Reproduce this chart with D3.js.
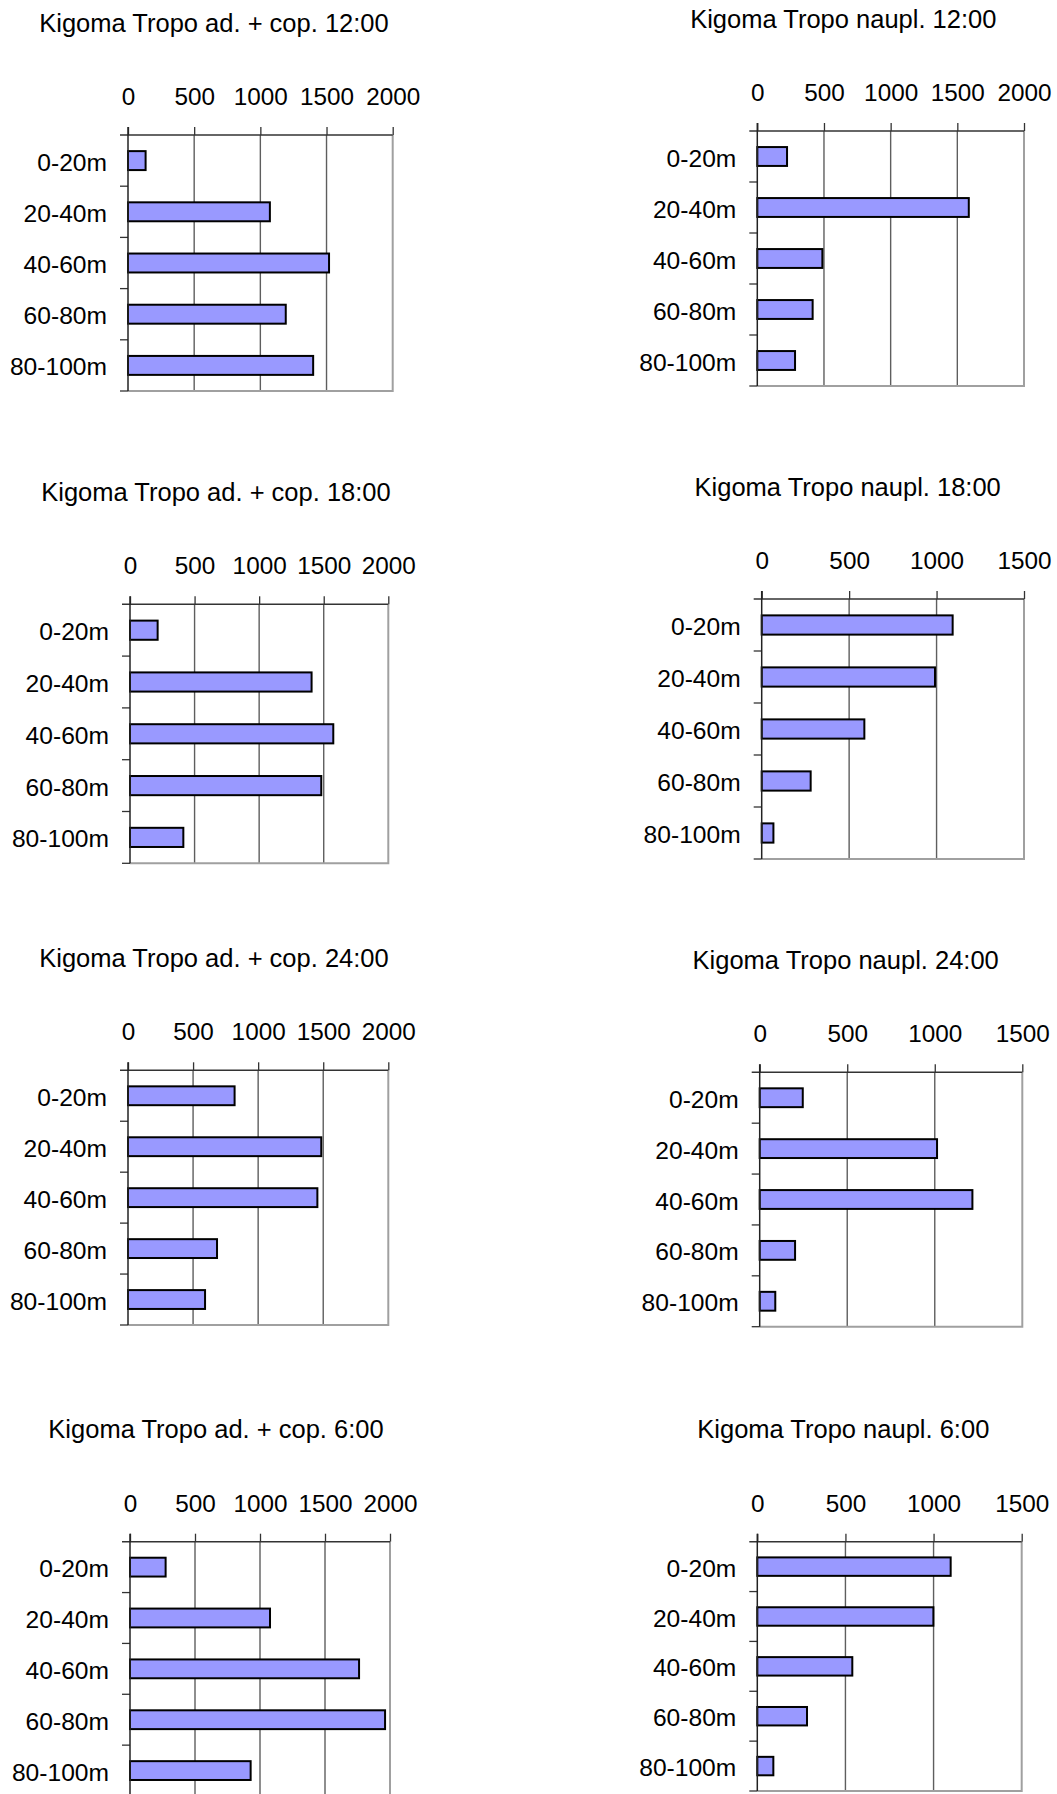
<!DOCTYPE html>
<html>
<head>
<meta charset="utf-8">
<script src="https://cdn.jsdelivr.net/npm/d3@7"></script>
<style>
  html, body { margin: 0; padding: 0; background: #ffffff; }
  svg { display: block; }
  text { font-family: "Liberation Sans", Arial, sans-serif; fill: #000; }
</style>
</head>
<body>
<script>
// ---------------- DATA ----------------
const categories = ["0-20m", "20-40m", "40-60m", "60-80m", "80-100m"];

const panelTitles = [
  "Kigoma Tropo ad. + cop. 12:00",
  "Kigoma Tropo naupl. 12:00",
  "Kigoma Tropo ad. + cop. 18:00",
  "Kigoma Tropo naupl. 18:00",
  "Kigoma Tropo ad. + cop. 24:00",
  "Kigoma Tropo naupl. 24:00",
  "Kigoma Tropo ad. + cop. 6:00",
  "Kigoma Tropo naupl. 6:00"
];

const adCop1200 = [133, 1072, 1519, 1192, 1399];
const naupl1200 = [223, 1586, 488, 415, 283];
const adCop1800 = [214, 1406, 1574, 1481, 413];
const naupl1800 = [1092, 991, 587, 280, 67];
const adCop2400 = [819, 1485, 1455, 684, 592];
const naupl2400 = [246, 1013, 1215, 202, 89];
const adCop0600 = [274, 1077, 1762, 1962, 928];
const naupl0600 = [1097, 999, 539, 282, 91];

const panelValues = [adCop1200, naupl1200, adCop1800, naupl1800,
                     adCop2400, naupl2400, adCop0600, naupl0600];

const ticks2000 = [0, 500, 1000, 1500, 2000];
const ticks1500 = [0, 500, 1000, 1500];
const panelTicks = [ticks2000, ticks2000, ticks2000, ticks1500,
                    ticks2000, ticks1500, ticks2000, ticks1500];

// ---------------- LAYOUT ----------------
const W = 1057, H = 1794;
const plotBoxes = [
  {x0: 128,   x1: 392.7,  y0: 135,    y1: 391},
  {x0: 757.3, x1: 1024,   y0: 131,    y1: 386},
  {x0: 130,   x1: 388.3,  y0: 604.3,  y1: 863.3},
  {x0: 761.7, x1: 1024,   y0: 599,    y1: 859},
  {x0: 128,   x1: 388.3,  y0: 1070.3, y1: 1325},
  {x0: 759.7, x1: 1022.3, y0: 1072.3, y1: 1326.7},
  {x0: 130,   x1: 390,    y0: 1541.7, y1: 1796},
  {x0: 757.3, x1: 1021.7, y0: 1541.7, y1: 1791}
];

const svg = d3.select("body").append("svg")
  .attr("width", W).attr("height", H)
  .attr("viewBox", `0 0 ${W} ${H}`);

panelTitles.forEach((title, i) => {
  const b = plotBoxes[i];
  const ticks = panelTicks[i];
  const vals = panelValues[i];
  const g = svg.append("g");

  const x = d3.scaleLinear()
    .domain([0, ticks[ticks.length - 1]])
    .range([b.x0, b.x1]);

  const y = d3.scaleBand()
    .domain(categories)
    .range([b.y0, b.y1])
    .paddingInner(0.63)
    .paddingOuter(0.315);

  // title
  g.append("text")
    .attr("x", b.x0 + 86)
    .attr("y", b.y0 - 103.5)
    .attr("text-anchor", "middle")
    .style("font-size", "25.5px")
    .text(title);

  // inner gridlines
  g.selectAll("line.grid")
    .data(ticks.slice(1, -1))
    .enter().append("line")
    .attr("class", "grid")
    .attr("x1", d => x(d)).attr("x2", d => x(d))
    .attr("y1", b.y0).attr("y2", b.y1)
    .attr("stroke", "#5e5e5e")
    .attr("stroke-width", 1.4);

  // plot border right and bottom (grey)
  g.append("path")
    .attr("d", `M${b.x1},${b.y0} L${b.x1},${b.y1} L${b.x0},${b.y1}`)
    .attr("fill", "none")
    .attr("stroke", "#a0a0a0")
    .attr("stroke-width", 2);

  // bars
  g.selectAll("rect.bar")
    .data(vals)
    .enter().append("rect")
    .attr("class", "bar")
    .attr("x", x(0))
    .attr("y", (d, k) => y(categories[k]))
    .attr("width", d => x(d) - x(0))
    .attr("height", y.bandwidth())
    .attr("fill", "#9999ff")
    .attr("stroke", "#000")
    .attr("stroke-width", 2);

  // top axis
  const xAxis = d3.axisTop(x)
    .tickValues(ticks)
    .tickFormat(d3.format("d"))
    .tickSizeInner(8)
    .tickSizeOuter(0)
    .tickPadding(22);
  const ga = g.append("g")
    .attr("transform", `translate(0,${b.y0})`)
    .call(xAxis);
  ga.select(".domain").remove();
  ga.selectAll(".tick line").attr("stroke", "#333").attr("stroke-width", 1.3);
  ga.selectAll(".tick text")
    .style("font-size", "24.3px")
    .style("font-family", "'Liberation Sans', Arial, sans-serif")
    .attr("fill", "#000");

  // top axis line (extends left past the value axis)
  g.append("line")
    .attr("x1", b.x0 - 8).attr("x2", b.x1)
    .attr("y1", b.y0).attr("y2", b.y0)
    .attr("stroke", "#333").attr("stroke-width", 1.5);

  // left category axis
  const yAxis = d3.axisLeft(y)
    .tickSize(0)
    .tickPadding(21);
  const gy = g.append("g")
    .attr("transform", `translate(${b.x0},0)`)
    .call(yAxis);
  gy.select(".domain").remove();
  gy.selectAll(".tick text")
    .attr("dy", "0.41em")
    .style("font-size", "24.6px")
    .style("font-family", "'Liberation Sans', Arial, sans-serif")
    .attr("fill", "#000");

  // category boundary ticks
  const step = (b.y1 - b.y0) / categories.length;
  g.selectAll("line.cattick")
    .data(d3.range(1, categories.length + 1))
    .enter().append("line")
    .attr("class", "cattick")
    .attr("x1", b.x0 - 8).attr("x2", b.x0)
    .attr("y1", k => b.y0 + k * step).attr("y2", k => b.y0 + k * step)
    .attr("stroke", "#333").attr("stroke-width", 1.3);

  // left axis line
  g.append("line")
    .attr("x1", b.x0).attr("x2", b.x0)
    .attr("y1", b.y0 - 8).attr("y2", b.y1)
    .attr("stroke", "#222").attr("stroke-width", 1.5);
});
</script>
</body>
</html>
